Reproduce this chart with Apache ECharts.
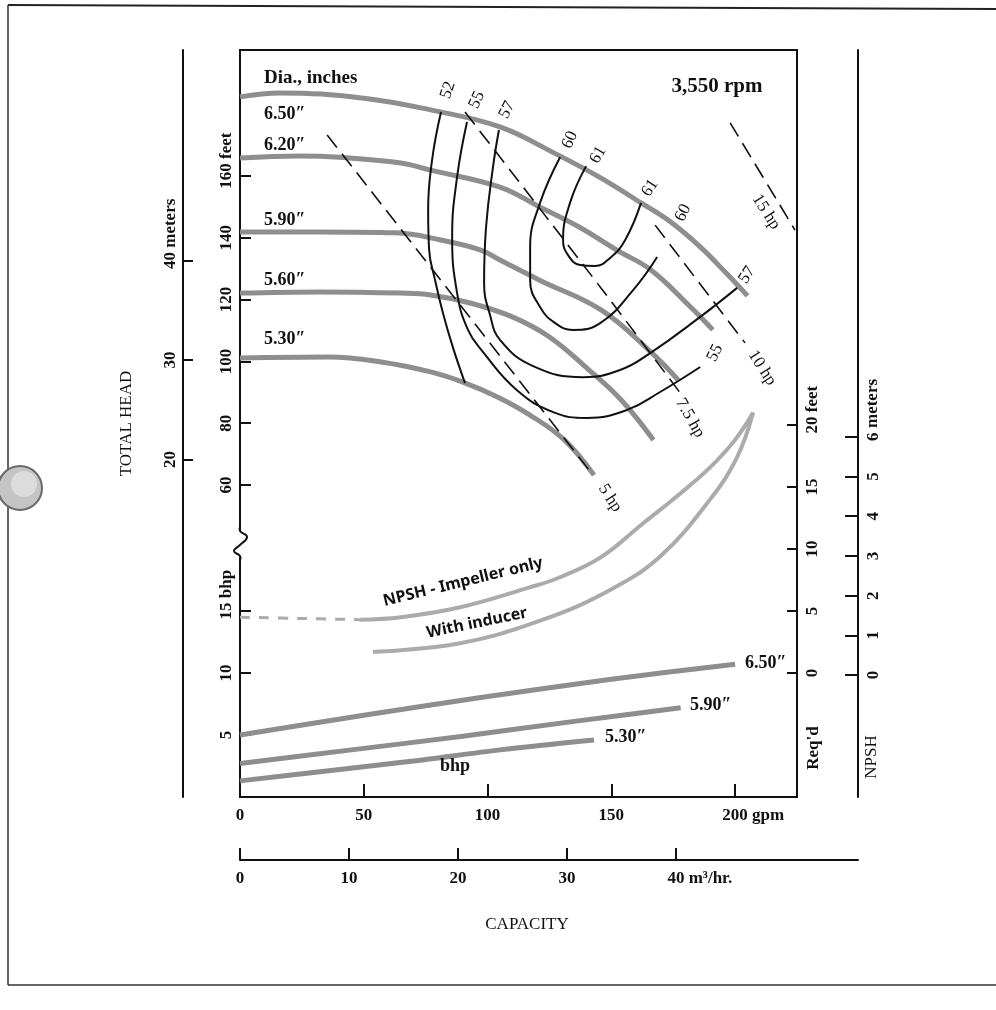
<!DOCTYPE html>
<html><head><meta charset="utf-8">
<script src="https://cdn.jsdelivr.net/npm/echarts@6/dist/echarts.min.js"></script>
<style>html,body{margin:0;padding:0;background:#fff}#c{width:996px;height:1010px}</style>
</head><body><div id="c"></div><script>
// ---------- tick values ----------
const gpmTicks = [0, 50, 100, 150, 200];
const m3hTicks = [0, 10, 20, 30, 40];
const headTicks = [60, 80, 100, 120, 140, 160];
const headMTicks = [20, 30, 40];
const bhpTicks = [5, 10, 15];
const npshFtTicks = [0, 5, 10, 15, 20];
const npshMTicks = [0, 1, 2, 3, 4, 5, 6];

// ---------- head-capacity curves (gpm, feet) ----------
const dia650Q = [0, 16, 50, 77, 105, 127, 145, 162, 174, 186, 196, 205];
const dia650H = [185.6, 186.9, 185.2, 181.4, 175.9, 167.4, 159.7, 151.3, 145.1, 137.0, 128.9, 121.2];
const dia620Q = [0, 24, 40, 65, 77, 105, 121, 137, 152, 166, 182, 191];
const dia620H = [165.8, 166.5, 166.1, 164.2, 161.9, 156.4, 150.0, 143.5, 136.1, 129.6, 117.6, 110.2];
const dia590Q = [0, 32, 63, 81, 97, 105, 121, 146, 166, 177];
const dia590H = [141.9, 141.9, 141.6, 139.3, 136.1, 132.8, 126.3, 116.6, 103.0, 94.0];
const dia560Q = [0, 32, 65, 77, 93, 110, 125, 141, 154, 167];
const dia560H = [122.1, 122.5, 122.1, 121.5, 118.9, 114.4, 107.9, 97.2, 87.5, 74.6];
const dia530Q = [0, 36, 57, 77, 90, 104, 117, 131, 143];
const dia530H = [101.1, 101.4, 99.8, 96.6, 93.3, 88.5, 82.7, 74.6, 63.2];

// ---------- efficiency contours (gpm, feet) ----------
const eff52Q = [81.2, 77.6, 76.0, 76.4, 78.8, 82.0, 86.1, 90.9];
const eff52H = [180.7, 165.2, 149.0, 136.1, 126.3, 115.6, 104.3, 93.0];
const eff55Q = [91.7, 87.7, 85.7, 87.7, 92.1, 98.2, 111.9, 126.5, 140.2, 156.4, 169.7, 185.9];
const eff55H = [177.5, 159.7, 140.3, 122.1, 110.2, 103.0, 90.7, 83.6, 81.7, 84.3, 90.1, 98.2];
const eff57Q = [104.6, 102.2, 99.4, 98.6, 101.0, 105.1, 118.4, 138.6, 153.5, 165.7, 185.9, 200.8];
const eff57H = [174.9, 162.9, 143.5, 125.4, 115.0, 106.9, 98.5, 94.9, 97.2, 102.7, 114.4, 123.8];
const eff60Q = [129.3, 121.2, 117.2, 117.2, 121.2, 127.3, 134.5, 145.5, 158.8, 168.5];
const eff60H = [166.1, 151.3, 137.0, 126.3, 117.6, 112.4, 110.2, 112.4, 123.1, 133.8];
const eff61Q = [139.8, 133.3, 130.5, 132.5, 137.4, 143.4, 149.5, 155.6, 162.0];
const eff61H = [163.2, 151.3, 139.3, 134.4, 131.2, 130.9, 133.5, 139.3, 151.3];

// ---------- horsepower lines (gpm, feet) ----------
const hp5Q = [35.2, 88.9, 142.6];
const hp5H = [173.3, 118.3, 63.2];
const hp75Q = [90.9, 145.5, 177.8];
const hp75H = [180.7, 124.1, 89.8];
const hp10Q = [167.7, 204.0];
const hp10H = [144.1, 106.0];
const hp15Q = [198.0, 224.2];
const hp15H = [177.2, 142.5];

// ---------- NPSH required (gpm, feet) ----------
const npshImpQ = [0, 24, 48.5, 65, 89, 117, 129, 145.5, 163, 178, 190, 200, 207.3];
const npshImpFt = [4.5, 4.4, 4.3, 4.5, 5.3, 6.9, 7.7, 9.3, 12.1, 14.5, 16.6, 18.8, 21.0];
const npshIndQ = [53.7, 88.9, 122.4, 149.5, 169.7, 189.9, 200.8, 207.3];
const npshIndFt = [1.7, 2.4, 4.3, 6.7, 9.4, 14.0, 17.4, 21.0];

// ---------- brake horsepower (gpm, bhp) ----------
const bhp650Q = [0, 50, 100, 150, 200];
const bhp650 = [5.0, 6.6, 8.1, 9.5, 10.7];
const bhp590Q = [0, 45, 90, 135, 178];
const bhp590 = [2.7, 3.8, 4.9, 6.1, 7.2];
const bhp530Q = [0, 35, 70, 105, 143];
const bhp530 = [1.3, 2.1, 2.9, 3.8, 4.6];

// ================= chart =================
const FONT = '"Liberation Serif","Times New Roman",serif';
const SANS = '"Noto Sans","DejaVu Sans",sans-serif';
const INK = '#111';
const pts = (q, v) => q.map((x, i) => [x, v[i]]);
const richH = { h: { color: 'rgba(0,0,0,0)', fontFamily: FONT, fontWeight: 'bold', fontSize: 17 } };
const unitLab = (n, u) => '{h|' + u + '}' + n + u;
const labBase = { color: INK, fontFamily: FONT, fontWeight: 'bold', fontSize: 17, rich: richH,
  showMinLabel: true, showMaxLabel: true, hideOverlap: false };

function yax(o) {
  return Object.assign({
    type: 'value', gridIndex: 0, splitLine: { show: false },
    axisLine: { show: false, onZero: false, lineStyle: { color: INK, width: 2 } }
  }, o);
}
function tick(vals, len) {
  return { show: true, inside: true, length: len, customValues: vals, lineStyle: { color: INK, width: 2 } };
}
const shownLine = { show: true, onZero: false, lineStyle: { color: INK, width: 2 } };

const grey = '#8e8e8e';
function headSeries(q, h) {
  return { type: 'line', xAxisIndex: 0, yAxisIndex: 0, data: pts(q, h), smooth: 0.4, showSymbol: false, silent: true,
    lineStyle: { color: grey, width: 5 }, z: 2 };
}
function effSeries(q, h) {
  return { type: 'line', xAxisIndex: 0, yAxisIndex: 0, data: pts(q, h), smooth: 0.45, showSymbol: false, silent: true,
    lineStyle: { color: INK, width: 2 }, z: 4 };
}
function hpSeries(q, h) {
  return { type: 'line', xAxisIndex: 0, yAxisIndex: 0, data: pts(q, h), smooth: 0.3, showSymbol: false, silent: true,
    lineStyle: { color: INK, width: 1.6, type: [16, 8] }, z: 3 };
}
function bhpSeries(q, b) {
  return { type: 'line', xAxisIndex: 0, yAxisIndex: 1, data: pts(q, b), smooth: 0.3, showSymbol: false, silent: true,
    lineStyle: { color: grey, width: 5 }, z: 2 };
}
function npshSeries(q, f, dashed) {
  return { type: 'line', xAxisIndex: 0, yAxisIndex: 2, data: pts(q, f), smooth: 0.4, showSymbol: false, silent: true,
    lineStyle: { color: '#ababab', width: dashed ? 3 : 4, type: dashed ? [10, 9] : 'solid' }, z: 2 };
}

function txt(t, x, y, o) {
  o = o || {};
  return { type: 'text', x: x, y: y, rotation: o.rot || 0, z: 50,
    style: { text: t, fill: INK, font: (o.w || 'bold') + ' ' + (o.s || 17) + 'px ' + (o.f || FONT),
      align: o.a || 'center', verticalAlign: 'middle' } };
}

const texts = [
  txt('Dia., inches', 264, 78, { a: 'left', s: 19 }),
  txt('6.50\u2033', 264, 114, { a: 'left', s: 18 }),
  txt('6.20\u2033', 264, 145, { a: 'left', s: 18 }),
  txt('5.90\u2033', 264, 220, { a: 'left', s: 18 }),
  txt('5.60\u2033', 264, 280, { a: 'left', s: 18 }),
  txt('5.30\u2033', 264, 339, { a: 'left', s: 18 }),
  txt('3,550 rpm', 717, 87, { s: 21 }),
  txt('52', 448, 90, { rot: 1.25, s: 17, w: 'normal' }),
  txt('55', 477, 100, { rot: 1.15, s: 17, w: 'normal' }),
  txt('57', 507, 110, { rot: 1.1, s: 17, w: 'normal' }),
  txt('60', 570, 140, { rot: 1.15, s: 17, w: 'normal' }),
  txt('61', 598, 155, { rot: 1.05, s: 17, w: 'normal' }),
  txt('61', 650, 188, { rot: 1.0, s: 17, w: 'normal' }),
  txt('60', 683, 213, { rot: 1.1, s: 17, w: 'normal' }),
  txt('57', 747, 275, { rot: 1.0, s: 17, w: 'normal' }),
  txt('55', 715, 353, { rot: 1.1, s: 17, w: 'normal' }),
  txt('15 hp', 766, 212, { rot: -1.0, s: 17, w: 'normal' }),
  txt('10 hp', 762, 368, { rot: -1.0, s: 17, w: 'normal' }),
  txt('7.5 hp', 690, 418, { rot: -1.05, s: 17, w: 'normal' }),
  txt('5 hp', 610, 498, { rot: -1.0, s: 17, w: 'normal' }),
  txt('NPSH - Impeller only', 463, 582, { rot: 0.24, s: 16, f: SANS }),
  txt('With inducer', 477, 623, { rot: 0.2, s: 16, f: SANS }),
  txt('6.50\u2033', 745, 663, { a: 'left', s: 18 }),
  txt('5.90\u2033', 690, 705, { a: 'left', s: 18 }),
  txt('5.30\u2033', 605, 737, { a: 'left', s: 18 }),
  txt('bhp', 455, 766, { s: 18 }),
  txt('CAPACITY', 527, 925, { w: 'normal', s: 17 }),
  txt("Req'd", 814, 748, { rot: Math.PI / 2, s: 17 }),
  txt('NPSH', 872, 757, { rot: Math.PI / 2, s: 17, w: 'normal' }),
  txt('meters', 873, 428, { rot: Math.PI / 2, s: 17, a: 'left' })
];

const deco = [
  { type: 'line', z: 60, shape: { x1: 8, y1: 5, x2: 996, y2: 9 }, style: { stroke: '#222', lineWidth: 2 } },
  { type: 'line', z: 60, shape: { x1: 8, y1: 5, x2: 8, y2: 985 }, style: { stroke: '#333', lineWidth: 1.5 } },
  { type: 'line', z: 60, shape: { x1: 8, y1: 985, x2: 996, y2: 985 }, style: { stroke: '#333', lineWidth: 1.5 } },
  { type: 'circle', z: 61, shape: { cx: 20, cy: 488, r: 22 }, style: { fill: '#c4c4c4', stroke: '#6a6a6a', lineWidth: 2 } },
  { type: 'circle', z: 62, shape: { cx: 24, cy: 484, r: 13 }, style: { fill: '#dcdcdc' } },
  { type: 'rect', z: 60, shape: { x: 232, y: 531, width: 16, height: 26 }, style: { fill: '#fff' } },
  { type: 'polyline', z: 61, shape: { points: [[240, 527], [240, 531], [247, 537], [240, 545], [234, 551], [240, 556], [240, 560]], smooth: 0.5 },
    style: { stroke: INK, lineWidth: 2, fill: null } }
];

const option = {
  animation: false,
  backgroundColor: '#fff',
  grid: [
    { left: 240, top: 50, width: 557, height: 747, show: true, borderColor: INK, borderWidth: 2, backgroundColor: 'transparent' },
    { left: 240, top: 850, width: 618, height: 10, show: false }
  ],
  xAxis: [
    { type: 'value', gridIndex: 0, min: 0, max: 225, position: 'bottom', splitLine: { show: false },
      axisLine: { show: false, onZero: false }, axisTick: tick([50, 100, 150, 200], 13),
      axisLabel: Object.assign({}, labBase, { customValues: gpmTicks, margin: 10,
        formatter: v => v === 200 ? unitLab(200, ' gpm') : String(v) }) },
    { type: 'value', gridIndex: 1, min: 0, max: 56.71, position: 'bottom', splitLine: { show: false },
      axisLine: shownLine, axisTick: tick(m3hTicks, 12),
      axisLabel: Object.assign({}, labBase, { customValues: m3hTicks, margin: 10,
        formatter: v => v === 40 ? unitLab(40, ' m\u00b3/hr.') : String(v) }) }
  ],
  yAxis: [
    yax({ position: 'left', min: -40.97, max: 200.78, axisTick: tick(headTicks, 11),
      axisLabel: Object.assign({}, labBase, { customValues: headTicks, rotate: 90, margin: 5,
        formatter: v => v === 160 ? unitLab(160, ' feet') : String(v) }) }),
    yax({ position: 'left', min: 0, max: 60.24, axisTick: tick(bhpTicks, 11),
      axisLabel: Object.assign({}, labBase, { customValues: bhpTicks, rotate: 90, margin: 5,
        formatter: v => v === 15 ? unitLab(15, ' bhp') : String(v) }) }),
    yax({ position: 'right', min: -10, max: 50.24, axisTick: tick(npshFtTicks, 10),
      axisLabel: Object.assign({}, labBase, { customValues: npshFtTicks, rotate: 90, margin: 7,
        formatter: v => v === 20 ? unitLab(20, ' feet') : String(v) }) }),
    yax({ position: 'right', offset: 61, min: -3.07, max: 15.74,
      axisLine: shownLine, axisTick: tick(npshMTicks, 13),
      axisLabel: Object.assign({}, labBase, { customValues: npshMTicks, rotate: 90, margin: 7,
        formatter: v => String(v) }) }),
    yax({ position: 'left', offset: 57, min: -13.92, max: 61.16,
      axisLine: shownLine, axisTick: tick(headMTicks, 10),
      axisLabel: Object.assign({}, labBase, { customValues: headMTicks, rotate: 90, margin: 4,
        formatter: v => v === 40 ? unitLab(40, ' meters') : String(v) }),
      name: 'TOTAL HEAD', nameLocation: 'middle', nameGap: 48,
      nameTextStyle: { color: INK, fontFamily: FONT, fontSize: 17, fontWeight: 'normal' } }),
    { type: 'value', gridIndex: 1, min: 0, max: 1, show: false }
  ],
  series: [
    headSeries(dia650Q, dia650H), headSeries(dia620Q, dia620H), headSeries(dia590Q, dia590H),
    headSeries(dia560Q, dia560H), headSeries(dia530Q, dia530H),
    effSeries(eff52Q, eff52H), effSeries(eff55Q, eff55H), effSeries(eff57Q, eff57H),
    effSeries(eff60Q, eff60H), effSeries(eff61Q, eff61H),
    hpSeries(hp5Q, hp5H), hpSeries(hp75Q, hp75H), hpSeries(hp10Q, hp10H), hpSeries(hp15Q, hp15H),
    npshSeries(npshImpQ.slice(0, 3), npshImpFt.slice(0, 3), true),
    npshSeries(npshImpQ.slice(2), npshImpFt.slice(2), false),
    npshSeries(npshIndQ, npshIndFt, false),
    bhpSeries(bhp650Q, bhp650), bhpSeries(bhp590Q, bhp590), bhpSeries(bhp530Q, bhp530)
  ],
  graphic: deco.concat(texts)
};
const chart = echarts.init(document.getElementById('c'), null, { renderer: 'canvas' });
chart.setOption(option);
</script></body></html>
